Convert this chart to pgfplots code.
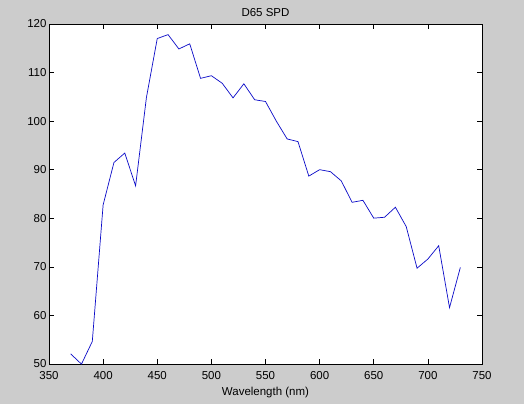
\documentclass[border=0pt]{standalone}
\usepackage{pgfplots}
\pgfplotsset{compat=1.18}
\usepackage{fontspec}
\setmainfont{Liberation Sans}
\definecolor{bggray}{RGB}{204,204,204}
\definecolor{mblue}{RGB}{10,10,200}
\begin{document}
\begin{tikzpicture}
\fill[bggray] (-49pt,-40pt) rectangle (475pt,364pt);
\useasboundingbox (-49pt,-40pt) rectangle (475pt,364pt);
\begin{axis}[
  scale only axis,
  width=433pt, height=340pt,
  xmin=350, xmax=750, ymin=50, ymax=120,
  xtick={350,400,...,750},
  ytick={50,60,...,120},
  tick align=inside,
  major tick length=5pt,
  axis background/.style={fill=white},
  axis line style={black, line width=0.6pt},
  tick style={black, line width=0.6pt},
  every tick label/.style={font=\fontsize{11.5}{13}\selectfont},
  /pgf/number format/assume math mode=true,
  xticklabel style={yshift=-4pt},
  yticklabel style={xshift=1pt},
  title={D65 SPD},
  title style={font=\fontsize{11.5}{13}\selectfont, yshift=-2pt},
  xlabel={Wavelength (nm)},
  xlabel style={font=\fontsize{11.5}{13}\selectfont, yshift=-1pt},
  clip=false,
]
\addplot[mblue, line width=0.7pt] coordinates {
(370,52.0891) (380,49.9755) (390,54.6482) (400,82.7549) (410,91.486)
(420,93.4318) (430,86.6823) (440,104.865) (450,117.008) (460,117.812)
(470,114.861) (480,115.923) (490,108.811) (500,109.354) (510,107.802)
(520,104.79) (530,107.689) (540,104.405) (550,104.046) (560,100)
(570,96.3342) (580,95.788) (590,88.6856) (600,90.0062) (610,89.5991)
(620,87.6987) (630,83.2886) (640,83.6992) (650,80.0268) (660,80.2146)
(670,82.2778) (680,78.2842) (690,69.7213) (700,71.6091) (710,74.349)
(720,61.604) (730,69.8856)
};
\end{axis}
\end{tikzpicture}
\end{document}
